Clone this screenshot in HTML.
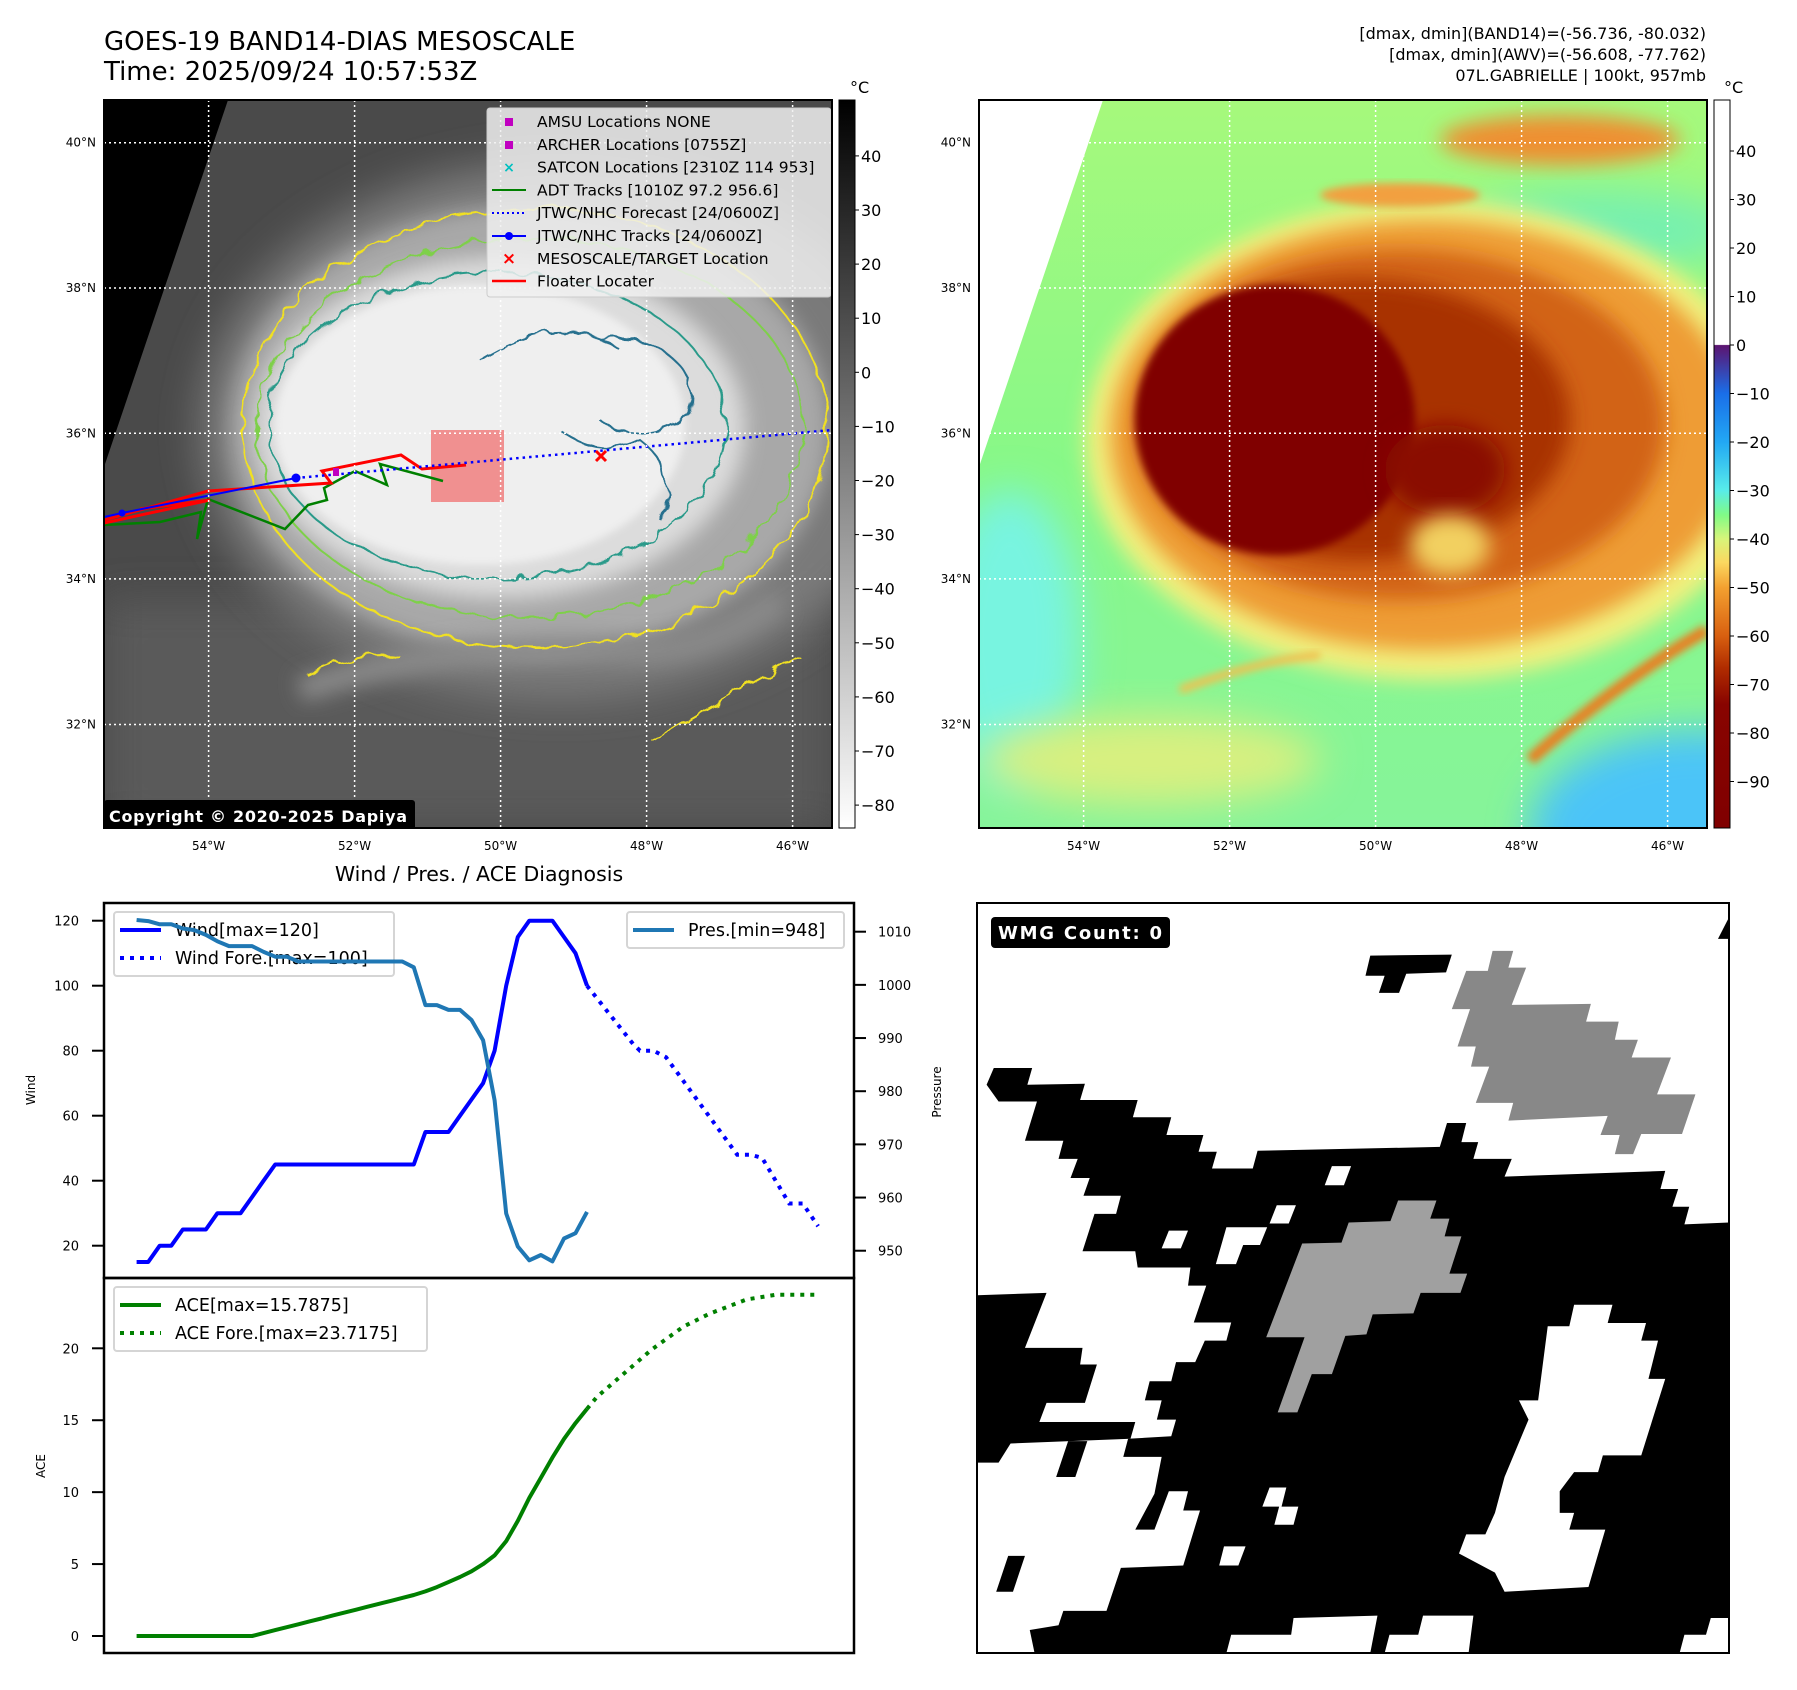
<!DOCTYPE html>
<html><head><meta charset="utf-8">
<style>
html,body{margin:0;padding:0;background:#fff;}
svg{display:block;font-family:"DejaVu Sans","Liberation Sans",sans-serif;}
</style></head>
<body>
<svg id="fig" xmlns="http://www.w3.org/2000/svg" width="1797" height="1690" viewBox="0 0 1797 1690">
<defs>
  <filter id="b4" x="-20%" y="-20%" width="140%" height="140%"><feGaussianBlur stdDeviation="4"/></filter>
  <filter id="b10" x="-30%" y="-30%" width="160%" height="160%"><feGaussianBlur stdDeviation="10"/></filter>
  <filter id="b20" x="-40%" y="-40%" width="180%" height="180%"><feGaussianBlur stdDeviation="20"/></filter>
  <filter id="wig" x="-10%" y="-10%" width="120%" height="120%"><feTurbulence type="fractalNoise" baseFrequency="0.05" numOctaves="2" seed="3"/><feDisplacementMap in="SourceGraphic" scale="14"/></filter>
  <clipPath id="clipL"><rect x="104" y="100" width="728" height="728"/></clipPath>
  <clipPath id="clipR"><rect x="979" y="100" width="728" height="728"/></clipPath>
  <clipPath id="clipW"><rect x="977" y="903" width="752" height="750"/></clipPath>
  <linearGradient id="cbGray" x1="0" y1="0" x2="0" y2="1"><stop offset="0" stop-color="#000"/><stop offset="1" stop-color="#fff"/></linearGradient>
  <linearGradient id="cbJet" x1="0" y1="0" x2="0" y2="1">
    <stop offset="0" stop-color="#fff"/><stop offset="0.336" stop-color="#fff"/>
    <stop offset="0.337" stop-color="#5c1470"/>
    <stop offset="0.403" stop-color="#1a6ee8"/>
    <stop offset="0.47" stop-color="#22a8f4"/>
    <stop offset="0.536" stop-color="#58ecea"/>
    <stop offset="0.57" stop-color="#80fb86"/>
    <stop offset="0.603" stop-color="#d8f57a"/>
    <stop offset="0.635" stop-color="#fbd860"/>
    <stop offset="0.67" stop-color="#f3a030"/>
    <stop offset="0.736" stop-color="#d86010"/>
    <stop offset="0.78" stop-color="#b02c00"/>
    <stop offset="0.83" stop-color="#880400"/>
    <stop offset="1" stop-color="#800000"/>
  </linearGradient>
  <linearGradient id="rbg" x1="0" y1="0" x2="0" y2="1"><stop offset="0" stop-color="#a6f97c"/><stop offset="0.5" stop-color="#88f888"/><stop offset="1" stop-color="#86f49a"/></linearGradient>
</defs>

<!-- titles -->
<text x="104" y="50" font-size="26" fill="#000">GOES-19 BAND14-DIAS MESOSCALE</text>
<text x="104" y="80" font-size="26" fill="#000">Time: 2025/09/24 10:57:53Z</text>
<text x="1706" y="39" font-size="16" text-anchor="end">[dmax, dmin](BAND14)=(-56.736, -80.032)</text>
<text x="1706" y="60" font-size="16" text-anchor="end">[dmax, dmin](AWV)=(-56.608, -77.762)</text>
<text x="1706" y="81" font-size="16" text-anchor="end">07L.GABRIELLE | 100kt, 957mb</text>

<!-- LEFT MAP -->
<g clip-path="url(#clipL)">
  <rect x="104" y="100" width="728" height="728" fill="#4a4a4a"/>
  <rect x="104" y="600" width="728" height="228" fill="#5a5a5a" filter="url(#b20)"/>
  <ellipse cx="560" cy="430" rx="360" ry="270" fill="#7a7a7a" filter="url(#b20)"/>
  <ellipse cx="530" cy="430" rx="300" ry="225" fill="#a8a8a8" filter="url(#b10)"/>
  <ellipse cx="500" cy="428" rx="245" ry="170" fill="#dcdcdc" filter="url(#b10)"/>
  <ellipse cx="480" cy="425" rx="205" ry="140" fill="#efefef" filter="url(#b4)"/>
  <path d="M300 690 Q450 640 620 650 Q700 660 780 600" stroke="#8a8a8a" stroke-width="25" fill="none" filter="url(#b10)"/>
  <polygon points="104,100 228,100 104,467" fill="#000"/>
  <g fill="none" stroke-width="2" filter="url(#wig)">
    <ellipse cx="535" cy="428" rx="292" ry="220" stroke="#f0e020"/>
    <ellipse cx="530" cy="428" rx="273" ry="190" stroke="#7ed04a"/>
    <ellipse cx="497" cy="426" rx="228" ry="153" stroke="#2a9a8a"/>
    <path d="M480 360 Q560 310 620 350" stroke="#28708e"/>
    <path d="M600 340 Q660 330 690 380 Q700 420 660 430 Q620 440 600 420" stroke="#28708e"/>
    <path d="M560 430 Q600 460 640 440 Q680 470 660 520" stroke="#28708e"/>
    <path d="M308 676 Q360 650 400 657" stroke="#f0e020"/>
    <path d="M652 741 Q720 700 800 657" stroke="#f0e020"/>
  </g>
  <rect x="431" y="430" width="73" height="72" fill="#f07878" opacity="0.8"/>
  <polyline points="104,525 160,522 201,512 197,539 208,499 285,529 308,505 327,500 324,488 355,471 387,485 380,464 443,481" fill="none" stroke="#008000" stroke-width="2.5"/>
  <polyline points="104,520 208,491 331,483 322,471 401,455 422,469 466,465" fill="none" stroke="#f00" stroke-width="3"/>
  <polyline points="104,523 210,500 140,509" fill="none" stroke="#f00" stroke-width="3"/>
  <polyline points="104,517 122,513 296,478" fill="none" stroke="#00f" stroke-width="2"/>
  <circle cx="122" cy="513" r="3.5" fill="#00f"/><circle cx="296" cy="478" r="4.5" fill="#00f"/>
  <line x1="296" y1="478" x2="832" y2="430" stroke="#00f" stroke-width="2.5" stroke-dasharray="2.5,4"/>
  <rect x="333" y="468" width="6" height="8" fill="#c000c0"/>
  <g stroke="#f00" stroke-width="3"><line x1="596" y1="451" x2="606" y2="461"/><line x1="606" y1="451" x2="596" y2="461"/></g>
  <g stroke="#fff" stroke-width="1.5" stroke-dasharray="2,3">
    <line x1="208.6" y1="100" x2="208.6" y2="828"/><line x1="354.6" y1="100" x2="354.6" y2="828"/><line x1="500.6" y1="100" x2="500.6" y2="828"/><line x1="646.6" y1="100" x2="646.6" y2="828"/><line x1="792.6" y1="100" x2="792.6" y2="828"/>
    <line x1="104" y1="142.7" x2="832" y2="142.7"/><line x1="104" y1="288" x2="832" y2="288"/><line x1="104" y1="433.3" x2="832" y2="433.3"/><line x1="104" y1="578.9" x2="832" y2="578.9"/><line x1="104" y1="724.5" x2="832" y2="724.5"/>
  </g>
  <g>
    <rect x="487" y="108" width="344" height="189" rx="3" fill="#f0f0f0" fill-opacity="0.85" stroke="#ccc"/>
    <rect x="505" y="118" width="8" height="8" fill="#c000c0"/>
    <rect x="505" y="141" width="8" height="8" fill="#c000c0"/>
    <text x="509" y="172" font-size="14" fill="#00c0c0" text-anchor="middle" font-weight="bold">×</text>
    <line x1="492" y1="190" x2="526" y2="190" stroke="#008000" stroke-width="2"/>
    <line x1="492" y1="213" x2="526" y2="213" stroke="#00f" stroke-width="2" stroke-dasharray="2,3"/>
    <line x1="492" y1="236" x2="526" y2="236" stroke="#00f" stroke-width="2"/><circle cx="509" cy="236" r="4" fill="#00f"/>
    <text x="509" y="264" font-size="17" fill="#f00" text-anchor="middle" font-weight="bold">×</text>
    <line x1="492" y1="281" x2="526" y2="281" stroke="#f00" stroke-width="2.5"/>
    <g font-size="15.5" fill="#000">
      <text x="537" y="127">AMSU Locations NONE</text>
      <text x="537" y="150">ARCHER Locations [0755Z]</text>
      <text x="537" y="172.5">SATCON Locations [2310Z 114 953]</text>
      <text x="537" y="195.5">ADT Tracks [1010Z 97.2 956.6]</text>
      <text x="537" y="218">JTWC/NHC Forecast [24/0600Z]</text>
      <text x="537" y="241">JTWC/NHC Tracks [24/0600Z]</text>
      <text x="537" y="264">MESOSCALE/TARGET Location</text>
      <text x="537" y="286.5">Floater Locater</text>
    </g>
  </g>
  <rect x="104" y="800" width="311" height="31" rx="3" fill="#000"/>
  <text x="109" y="822" font-size="16" font-weight="bold" fill="#fff" textLength="298">Copyright © 2020-2025 Dapiya</text>
</g>
<rect x="104" y="100" width="728" height="728" fill="none" stroke="#000" stroke-width="2"/>

<!-- RIGHT MAP -->
<g clip-path="url(#clipR)">
  <rect x="979" y="100" width="728" height="728" fill="url(#rbg)"/>
  <ellipse cx="1010" cy="640" rx="70" ry="150" fill="#78f4e0" filter="url(#b20)"/>
  <ellipse cx="1700" cy="830" rx="170" ry="100" fill="#4cc4f8" filter="url(#b20)"/>
  <ellipse cx="1600" cy="230" rx="140" ry="40" fill="#76f0b0" filter="url(#b20)"/>
  <ellipse cx="1150" cy="760" rx="170" ry="45" fill="#d8f080" filter="url(#b20)"/>
  <ellipse cx="1430" cy="440" rx="345" ry="240" fill="#f2f07e" filter="url(#b10)"/>
  <ellipse cx="1425" cy="435" rx="315" ry="215" fill="#ee9c34" filter="url(#b10)"/>
  <ellipse cx="1400" cy="425" rx="265" ry="175" fill="#d26414" filter="url(#b10)"/>
  <ellipse cx="1360" cy="420" rx="210" ry="140" fill="#a83000" filter="url(#b10)"/>
  <ellipse cx="1275" cy="420" rx="140" ry="135" fill="#800000" filter="url(#b4)"/>
  <ellipse cx="1445" cy="470" rx="60" ry="45" fill="#8a0a00" filter="url(#b10)"/>
  <ellipse cx="1450" cy="545" rx="40" ry="30" fill="#f2d060" filter="url(#b10)"/>
  <ellipse cx="1560" cy="140" rx="120" ry="25" fill="#ee9030" filter="url(#b10)"/>
  <ellipse cx="1400" cy="195" rx="80" ry="12" fill="#f2a040" filter="url(#b4)"/>
  <path d="M1530 760 Q1620 680 1707 630" stroke="#e88020" stroke-width="12" fill="none" filter="url(#b4)"/>
  <path d="M1180 690 Q1260 660 1320 655" stroke="#f2c050" stroke-width="8" fill="none" filter="url(#b4)"/>
  <polygon points="979,100 1103,100 979,467" fill="#fff"/>
  <g stroke="#fff" stroke-width="1.5" stroke-dasharray="2,3">
    <line x1="1083.6" y1="100" x2="1083.6" y2="828"/><line x1="1229.6" y1="100" x2="1229.6" y2="828"/><line x1="1375.6" y1="100" x2="1375.6" y2="828"/><line x1="1521.6" y1="100" x2="1521.6" y2="828"/><line x1="1667.6" y1="100" x2="1667.6" y2="828"/>
    <line x1="979" y1="142.7" x2="1707" y2="142.7"/><line x1="979" y1="288" x2="1707" y2="288"/><line x1="979" y1="433.3" x2="1707" y2="433.3"/><line x1="979" y1="578.9" x2="1707" y2="578.9"/><line x1="979" y1="724.5" x2="1707" y2="724.5"/>
  </g>
</g>
<rect x="979" y="100" width="728" height="728" fill="none" stroke="#000" stroke-width="2"/>

<!-- colorbars -->
<rect x="839" y="100" width="16" height="728" fill="url(#cbGray)" stroke="#000" stroke-width="1"/>
<rect x="1714" y="100" width="16" height="728" fill="url(#cbJet)" stroke="#000" stroke-width="1"/>
<text x="850" y="93" font-size="16">°C</text>
<text x="1724" y="93" font-size="16">°C</text>
<g id="axisLabels"></g>

<!-- bottom left chart -->
<text x="479" y="881" font-size="20.5" text-anchor="middle">Wind / Pres. / ACE Diagnosis</text>
<g id="chart"></g>

<!-- WMG -->
<g clip-path="url(#clipW)">
  <rect x="977" y="903" width="752" height="750" fill="#fff"/>
  <g transform="translate(977,903) scale(0.4796,0.4783)">
    <polygon fill="#000" points="20,380 35,345 115,345 105,380 225,378 215,412 335,412 325,448 405,448 395,485 472,485 462,520 500,520 490,555 575,555 585,518 965,510 980,460 1020,460 1010,500 1045,500 1035,535 1115,535 1100,572 1435,560 1425,598 1462,598 1450,635 1485,635 1475,672 1568,668 1568,1568 120,1568 110,1520 170,1510 180,1480 270,1480 300,1390 430,1385 465,1270 430,1270 440,1230 400,1230 370,1310 330,1310 370,1235 385,1158 305,1158 315,1120 405,1115 415,1080 375,1080 385,1040 350,1040 360,1000 405,1000 415,960 455,960 475,915 520,915 530,877 452,877 478,800 440,800 445,762 335,762 330,728 220,728 245,650 290,650 300,612 222,612 235,575 195,575 210,535 170,535 180,497 100,497 125,415 45,415"/>
    <polygon fill="#000" points="0,820 145,815 100,930 220,930 215,965 250,965 225,1045 145,1045 130,1085 330,1085 320,1120 70,1130 45,1170 0,1170"/>
    <polygon fill="#000" points="65,1365 100,1365 75,1440 40,1440"/>
    <polygon fill="#000" points="190,1125 230,1125 205,1200 165,1200"/>
    <polygon fill="#fff" points="1245,840 1325,840 1315,878 1395,878 1385,915 1420,915 1400,995 1435,995 1385,1155 1305,1155 1295,1190 1245,1190 1215,1230 1215,1275 1245,1275 1235,1310 1310,1310 1275,1430 1100,1440 1080,1400 1005,1360 1020,1320 1060,1320 1080,1275 1100,1200 1150,1080 1130,1040 1170,1040 1190,885 1235,885"/>
    <polygon fill="#fff" points="860,1530 920,1530 930,1490 1035,1490 1025,1568 850,1568"/>
    <polygon fill="#fff" points="660,1495 835,1490 820,1568 520,1568 530,1530 655,1530"/>
    <polygon fill="#fff" points="1530,1495 1568,1495 1568,1568 1465,1568 1475,1530 1520,1530"/>
    <polygon fill="#fff" points="740,550 780,550 765,590 725,590"/>
    <polygon fill="#fff" points="625,632 665,632 650,670 610,670"/>
    <polygon fill="#fff" points="400,685 440,685 425,722 385,722"/>
    <polygon fill="#fff" points="520,678 605,678 590,715 555,715 540,755 498,755"/>
    <polygon fill="#fff" points="515,1345 560,1345 545,1385 505,1385"/>
    <polygon fill="#fff" points="610,1222 645,1222 635,1262 670,1262 660,1300 620,1300 630,1262 595,1262"/>
    <polygon fill="#000" points="820,110 990,108 978,145 895,148 880,188 838,188 850,152 810,152"/>
    <polygon fill="#888" points="1075,100 1118,100 1108,135 1145,135 1115,213 1280,211 1270,248 1338,248 1330,286 1378,286 1365,323 1447,323 1418,400 1498,400 1470,483 1385,483 1368,525 1330,525 1340,485 1300,485 1315,445 1108,455 1118,418 1040,418 1068,342 1030,342 1040,300 1002,300 1028,222 990,222 1020,142 1065,142"/>
    <polygon fill="#a0a0a0" points="878,622 958,622 945,660 985,660 975,697 1010,697 985,775 1022,775 1008,815 925,815 910,858 825,860 812,902 768,905 740,985 698,985 668,1065 627,1065 683,908 603,908 678,712 760,710 775,668 862,665"/>
    <polygon fill="#000" points="1545,75 1568,30 1568,75"/>
  </g>
  <rect x="991" y="917" width="179" height="31" rx="4" fill="#000"/>
  <text x="998" y="939" font-size="18" font-weight="bold" fill="#fff" textLength="164">WMG Count: 0</text>
</g>
<rect x="977" y="903" width="752" height="750" fill="none" stroke="#000" stroke-width="2"/>

<script>
// ---- chart data ----
var obsHours = [];
for (var i = 0; i < 40; i++) obsHours.push(i * 6);
var windObs = [15,15,20,20,25,25,25,30,30,30,35,40,45,45,45,45,45,45,45,45,45,45,45,45,45,55,55,55,60,65,70,80,100,115,120,120,120,115,110,100];
var presObs = [1012.2,1012,1011.4,1011.4,1010.6,1010.3,1009.4,1008.2,1007.3,1007.3,1007.3,1006.2,1005.3,1005.3,1004.4,1004.4,1004.4,1004.4,1004.4,1004.4,1004.4,1004.4,1004.4,1004.4,1003.3,996.2,996.2,995.3,995.3,993.4,989.6,978.3,957,950.8,948.2,949.2,948,952.3,953.3,957.3];
var aceObs = [0,0,0,0,0,0,0,0,0,0,0,0.2,0.41,0.61,0.81,1.02,1.22,1.43,1.63,1.83,2.04,2.24,2.44,2.65,2.85,3.1,3.4,3.75,4.1,4.5,5.0,5.6,6.6,8.0,9.6,11.0,12.4,13.7,14.8,15.79];
var foreHoursWind = [0,24,27.5,34.5,41,78,85,91,105,112,120];
var windFore = [100,82,80,80,78,48,48,47,33,33,26];
var foreHoursAce = [0,5,17,33.5,50,63.5,83,98,120];
var aceFore = [15.79,16.6,18.0,19.9,21.5,22.4,23.4,23.72,23.72];
var windTicks = [20,40,60,80,100,120];
var presTicks = [950,960,970,980,990,1000,1010];
var aceTicks = [0,5,10,15,20];
var band14Ticks = [40,30,20,10,0,-10,-20,-30,-40,-50,-60,-70,-80];
var awvTicks = [40,30,20,10,0,-10,-20,-30,-40,-50,-60,-70,-80,-90];
var lonLabels = ["54°W","52°W","50°W","48°W","46°W"];
var lonValues = [-54,-52,-50,-48,-46];
var latLabels = ["40°N","38°N","36°N","34°N","32°N"];
var latValues = [40,38,36,34,32];

// ---- scales ----
function xH(h){ return 136.6 + h * 1.925; }
function yWind(v){ return 920.7 + (120 - v) * 3.25; }
function yPres(p){ return 931.7 + (1010 - p) * 5.317; }
function yAce(a){ return 1636 - a * 14.385; }
function yB14(v){ return 372.3 - v * 5.41; }
function yAwv(v){ return 345 - v * 4.85; }
function xLon(l){ return 208.6 + (l + 54) * 73; }
function yLat(l){ return 142.7 + (40 - l) * 72.7; }

var NS = "http://www.w3.org/2000/svg";
function mk(tag, attrs, parent){
  var e = document.createElementNS(NS, tag);
  for (var k in attrs) e.setAttribute(k, attrs[k]);
  parent.appendChild(e);
  return e;
}
function txt(s, attrs, parent){ var t = mk("text", attrs, parent); t.textContent = s; return t; }
function pts(xs, ys, fx, fy){ return xs.map(function(x,i){ return fx(x).toFixed(1)+","+fy(ys[i]).toFixed(1); }).join(" "); }

var AL = document.getElementById("axisLabels");
lonValues.forEach(function(l, i){
  var t1 = txt(lonLabels[i], {x: xLon(l), y: 850, "font-size": 12, "text-anchor": "middle"}, AL);
  
  
  var t2 = txt(lonLabels[i], {x: xLon(l) + 875, y: 850, "font-size": 12, "text-anchor": "middle"}, AL);
  
  
});
latValues.forEach(function(l, i){
  var t1 = txt(latLabels[i], {x: 96, y: yLat(l) + 4, "font-size": 12, "text-anchor": "end"}, AL);
  
  
  var t2 = txt(latLabels[i], {x: 971, y: yLat(l) + 4, "font-size": 12, "text-anchor": "end"}, AL);
  
  
});
band14Ticks.forEach(function(v){
  var y = yB14(v);
  mk("line", {x1: 855, y1: y, x2: 859, y2: y, stroke: "#000", "stroke-width": 1}, AL);
  var t = txt(v < 0 ? "\u2212" + (-v) : String(v), {x: 861, y: y + 6, "font-size": 16}, AL);
  
  
});
awvTicks.forEach(function(v){
  var y = yAwv(v);
  mk("line", {x1: 1730, y1: y, x2: 1734, y2: y, stroke: "#000", "stroke-width": 1}, AL);
  var t = txt(v < 0 ? "\u2212" + (-v) : String(v), {x: 1736, y: y + 6, "font-size": 16}, AL);
  
  
});

// ---- diagnosis chart ----
var C = document.getElementById("chart");
mk("rect", {x: 104, y: 903, width: 750, height: 750, fill: "#fff"}, C);

windTicks.forEach(function(v){
  var y = yWind(v);
  mk("line", {x1: 92, y1: y, x2: 104, y2: y, stroke: "#000", "stroke-width": 2}, C);
  var t = txt(String(v), {x: 79, y: y + 5, "font-size": 13, "text-anchor": "end"}, C);
  
  
});
presTicks.forEach(function(v){
  var y = yPres(v);
  mk("line", {x1: 854, y1: y, x2: 866, y2: y, stroke: "#000", "stroke-width": 2}, C);
  var t = txt(String(v), {x: 878, y: y + 5, "font-size": 13}, C);
  
  
});
aceTicks.forEach(function(v){
  var y = yAce(v);
  mk("line", {x1: 92, y1: y, x2: 104, y2: y, stroke: "#000", "stroke-width": 2}, C);
  var t = txt(String(v), {x: 79, y: y + 5, "font-size": 13, "text-anchor": "end"}, C);
  
  
});
var yl1 = txt("Wind", {x: 0, y: 0, "font-size": 12, "text-anchor": "middle", transform: "translate(35,1090) rotate(-90)"}, C);


var yl2 = txt("Pressure", {x: 0, y: 0, "font-size": 12, "text-anchor": "middle", transform: "translate(941,1092) rotate(-90)"}, C);


var yl3 = txt("ACE", {x: 0, y: 0, "font-size": 12, "text-anchor": "middle", transform: "translate(45,1466) rotate(-90)"}, C);



function legend(x, y, w, h, items){
  var g = mk("g", {}, C);
  mk("rect", {x: x, y: y, width: w, height: h, rx: 3, fill: "#fff", "fill-opacity": 0.85, stroke: "#d5d5d5", "stroke-width": 2}, g);
  items.forEach(function(it, i){
    var yy = y + 18 + i * 28;
    mk("line", {x1: x + 6, y1: yy, x2: x + 47, y2: yy, stroke: it.c, "stroke-width": 4, "stroke-dasharray": it.d ? "4,6" : "none"}, g);
    txt(it.t, {x: x + 61, y: yy + 6, "font-size": 17.5}, g);
  });
  return g;
}

var l1 = mk("polyline", {points: pts(obsHours, windObs, xH, yWind), fill: "none", stroke: "#0000ff", "stroke-width": 4, "stroke-linejoin": "round"}, C);


var l2 = mk("polyline", {points: pts(foreHoursWind, windFore, function(h){return xH(234 + h);}, yWind), fill: "none", stroke: "#0000ff", "stroke-width": 4, "stroke-dasharray": "4,6"}, C);


var lg1 = legend(114, 912, 280, 64, [{t: "Wind[max=120]", c: "#0000ff"}, {t: "Wind Fore.[max=100]", c: "#0000ff", d: 1}]);


var l3 = mk("polyline", {points: pts(obsHours, presObs, xH, yPres), fill: "none", stroke: "#1f77b4", "stroke-width": 4, "stroke-linejoin": "round"}, C);


var lg2 = legend(627, 912, 217, 36, [{t: "Pres.[min=948]", c: "#1f77b4"}]);


var l4 = mk("polyline", {points: pts(obsHours, aceObs, xH, yAce), fill: "none", stroke: "#008000", "stroke-width": 4, "stroke-linejoin": "round"}, C);


var l5 = mk("polyline", {points: pts(foreHoursAce, aceFore, function(h){return xH(234 + h);}, yAce), fill: "none", stroke: "#008000", "stroke-width": 4, "stroke-dasharray": "4,6"}, C);


var lg3 = legend(114, 1287, 313, 64, [{t: "ACE[max=15.7875]", c: "#008000"}, {t: "ACE Fore.[max=23.7175]", c: "#008000", d: 1}]);



mk("rect", {x: 104, y: 903, width: 750, height: 375, fill: "none", stroke: "#000", "stroke-width": 2.5}, C);
mk("rect", {x: 104, y: 1278, width: 750, height: 375, fill: "none", stroke: "#000", "stroke-width": 2.5}, C);
</script>
</svg>
</body></html>
